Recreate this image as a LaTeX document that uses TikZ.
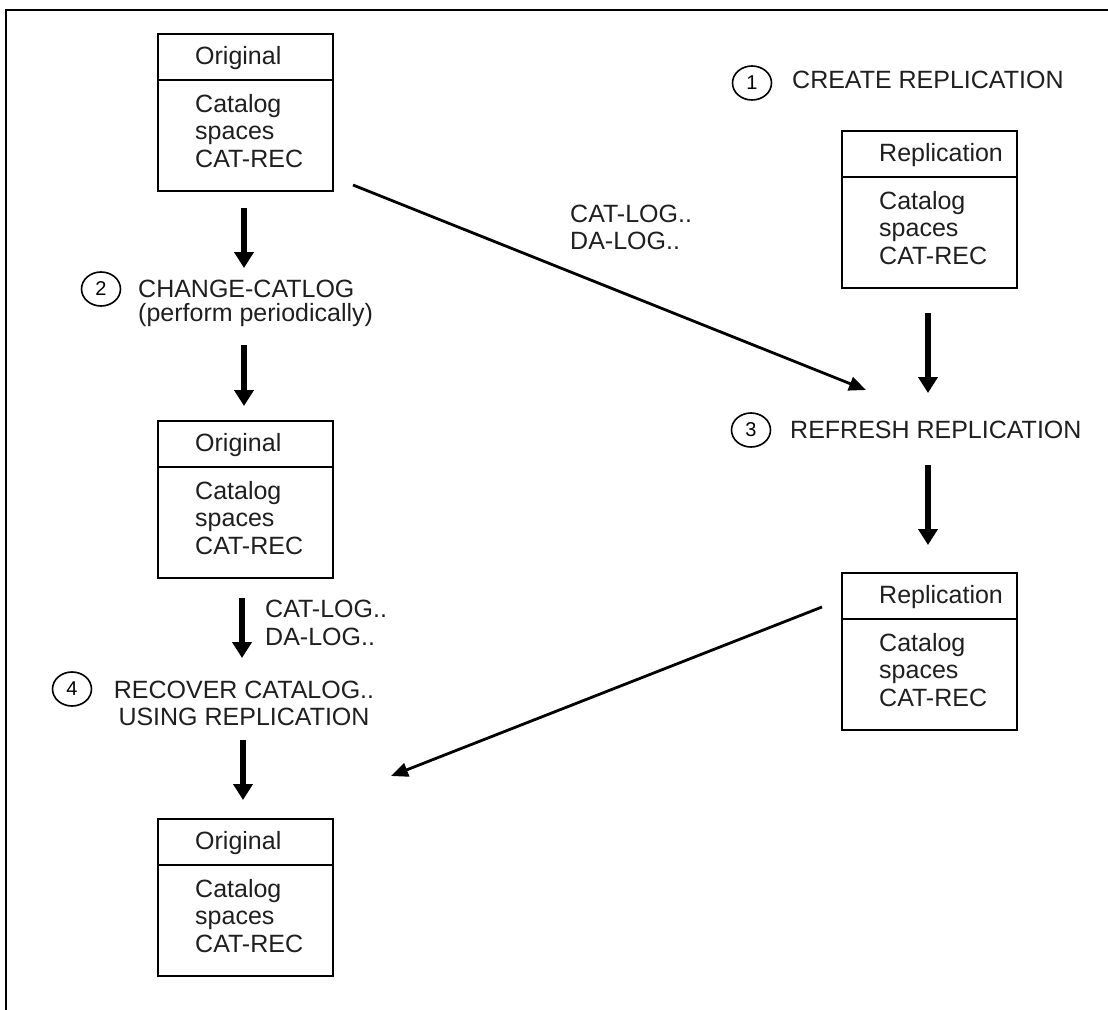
\documentclass[tikz,border=0pt]{standalone}
\usepackage{fontspec}
\setmainfont{Liberation Sans}
\usetikzlibrary{arrows.meta,calc,shapes.geometric}

% Catalog box: name, left x, top y, title
\newcommand\catbox[4]{%
  \node[boxframe] (#1) at (#2,#3) {};
  \draw[rule] ($(#1.north west)+(0,47)$) -- ($(#1.north east)+(0,47)$);
  \node[txt] (#1-t) at ($(#1.north west)+(38,31)$) {#4};
  \node[txt] (#1-a) at ($(#1.north west)+(38,79)$) {Catalog};
  \node[txt] (#1-b) at ($(#1.north west)+(38,106.5)$) {spaces};
  \node[txt] (#1-c) at ($(#1.north west)+(38,134)$) {CAT-REC};
}

\begin{document}
\begin{tikzpicture}[x=1pt,y=-1pt,
  txt/.style={inner sep=0pt, font=\fontsize{25}{27}\selectfont, anchor=base west, text=black!88},
  rule/.style={line width=1.7pt},
  boxframe/.style={draw, line width=1.7pt, minimum width=175pt, minimum height=157pt,
                   inner sep=0pt, anchor=north west},
  stepnum/.style={draw, ellipse, line width=1.6pt, minimum width=39pt, minimum height=34pt,
                  inner sep=0pt, font=\fontsize{20}{20}\selectfont},
  flow/.style={line width=5.5pt, -{Triangle[length=16pt,width=19pt]}},
  feed/.style={line width=2.8pt, -{Triangle[length=17pt,width=14pt]}}
]
\useasboundingbox (0,0) rectangle (1108,1009);

% outer frame (runs past the page on the right and bottom)
\draw[line width=2pt] (6,10) rectangle (1130,1030);

% boxes
\catbox{B1}{157}{33}{Original}
\catbox{B2}{157}{420}{Original}
\catbox{B3}{157}{818}{Original}
\catbox{R1}{841}{130}{Replication}
\catbox{R2}{841}{572}{Replication}

% numbered steps
\node[stepnum] (n1) at (752,83) {1};
\node[txt] (l1) at (792,88) {CREATE REPLICATION};

\node[stepnum] (n2) at (101,289) {2};
\node[txt] (l2a) at (138,297) {CHANGE-CATLOG};
\node[txt] (l2b) at (138,321) {(perform periodically)};

\node[stepnum] (n3) at (751,430) {3};
\node[txt] (l3) at (790,438) {REFRESH REPLICATION};

\node[stepnum] (n4) at (72,689) {4};
\node[txt, anchor=base] (l4a) at (244,698) {RECOVER CATALOG..};
\node[txt, anchor=base] (l4b) at (244,725) {USING REPLICATION};

% log labels
\node[txt] (g1a) at (570,222) {CAT-LOG..};
\node[txt] (g1b) at (570,249) {DA-LOG..};
\node[txt] (g2a) at (265,617) {CAT-LOG..};
\node[txt] (g2b) at (265,645) {DA-LOG..};

% arrow end points
\coordinate (a1s) at (244,208); \coordinate (a1e) at (244,268);
\coordinate (a2s) at (244,345); \coordinate (a2e) at (244,406);
\coordinate (a3s) at (242,598); \coordinate (a3e) at (242,658);
\coordinate (a4s) at (243,740); \coordinate (a4e) at (243,800);
\coordinate (a5s) at (928,313); \coordinate (a5e) at (928,393);
\coordinate (a6s) at (928,465); \coordinate (a6e) at (928,545);
\coordinate (d1s) at (353,185); \coordinate (d1e) at (866,390);
\coordinate (d2s) at (822,607); \coordinate (d2e) at (391,776);

\draw[flow] (a1s) -- (a1e);
\draw[flow] (a2s) -- (a2e);
\draw[flow] (a3s) -- (a3e);
\draw[flow] (a4s) -- (a4e);
\draw[flow] (a5s) -- (a5e);
\draw[flow] (a6s) -- (a6e);
\draw[feed] (d1s) -- (d1e);
\draw[feed] (d2s) -- (d2e);
\end{tikzpicture}
\end{document}
